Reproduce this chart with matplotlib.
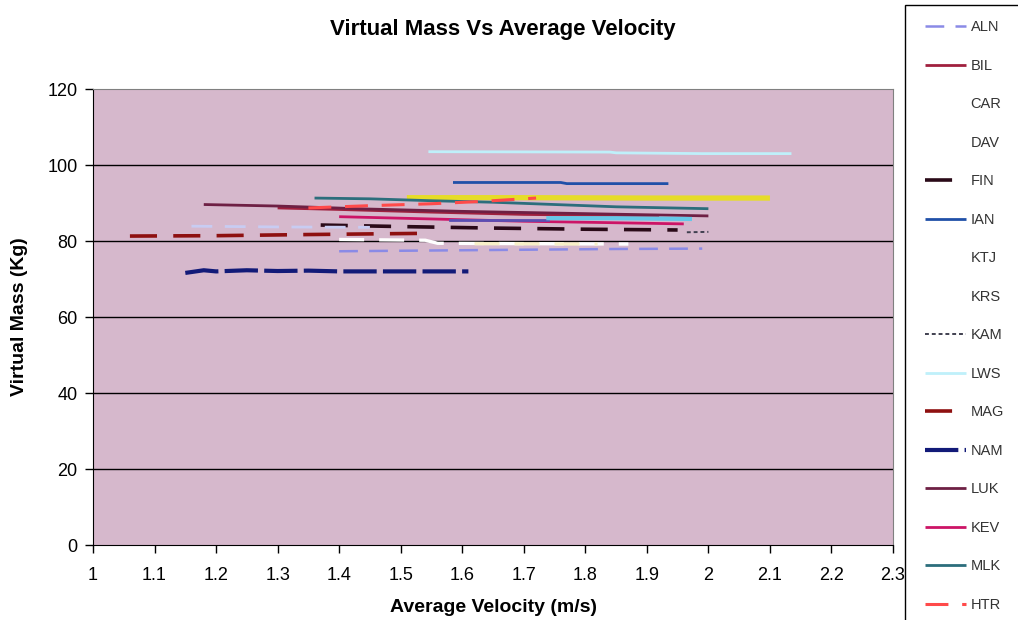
import matplotlib
matplotlib.use("Agg")
import matplotlib.pyplot as plt
from matplotlib import font_manager
from matplotlib.patches import Rectangle

# ---- data ----
names = ["ALN", "BIL", "CAR", "DAV", "FIN", "IAN", "KTJ", "KRS",
         "KAM", "LWS", "MAG", "NAM", "LUK", "KEV", "MLK", "HTR"]

aln_x = [1.40, 1.55, 1.70, 1.85, 1.99]
aln_y = [77.3, 77.5, 77.7, 77.9, 78.0]
bil_x = [1.30, 1.40, 1.55, 1.70, 1.85, 1.92]
bil_y = [88.7, 88.3, 87.6, 87.0, 86.7, 86.6]
car_x = [1.51, 1.70, 1.90, 2.10]
car_y = [91.4, 91.4, 91.3, 91.3]
dav_x = [1.40, 1.54, 1.56, 1.87]
dav_y = [80.4, 80.2, 79.4, 79.2]
fin_x = [1.37, 1.50, 1.65, 1.80, 1.95]
fin_y = [84.2, 83.8, 83.4, 83.1, 82.9]
ian_x = [1.585, 1.76, 1.77, 1.935]
ian_y = [95.4, 95.4, 95.1, 95.1]
ktj_x = [1.62, 1.82]
ktj_y = [79.3, 79.2]
krs_x = [1.16, 1.30, 1.45]
krs_y = [83.9, 83.7, 83.6]
kam_x = [1.965, 2.00]
kam_y = [82.3, 82.4]
lws_x = [1.545, 1.84, 1.85, 1.99, 2.135]
lws_y = [103.5, 103.4, 103.2, 103.0, 103.0]
mag_x = [1.06, 1.20, 1.35, 1.53]
mag_y = [81.3, 81.4, 81.7, 82.0]
nam_x = [1.15, 1.18, 1.20, 1.25, 1.30, 1.35, 1.40, 1.50, 1.61]
nam_y = [71.6, 72.3, 72.0, 72.3, 72.1, 72.2, 72.0, 72.0, 72.0]
luk_x = [1.18, 1.30, 1.45, 1.60, 1.80, 2.00]
luk_y = [89.6, 89.2, 88.4, 87.8, 87.2, 86.6]
kev_x = [1.40, 1.55, 1.70, 1.85, 1.96]
kev_y = [86.4, 85.8, 85.2, 84.8, 84.5]
mlk_x = [1.36, 1.45, 1.55, 1.65, 1.75, 1.85, 2.00]
mlk_y = [91.3, 91.1, 90.6, 90.2, 89.6, 89.0, 88.5]
htr_x = [1.35, 1.45, 1.55, 1.63, 1.72]
htr_y = [88.7, 89.3, 89.8, 90.4, 91.3]
# two series whose legend entries fall below the cropped picture
extra1_x = [1.58, 1.74]
extra1_y = [85.6, 85.6]
extra2_x = [1.74, 1.85, 1.97]
extra2_y = [86.0, 86.0, 85.8]

xticks = [1, 1.1, 1.2, 1.3, 1.4, 1.5, 1.6, 1.7, 1.8, 1.9, 2, 2.1, 2.2, 2.3]
yticks = [0, 20, 40, 60, 80, 100, 120]

installed = {f.name for f in font_manager.fontManager.ttflist}
narrow = "Liberation Sans Narrow" if "Liberation Sans Narrow" in installed else "Liberation Sans"
plt.rcParams["font.family"] = ["Liberation Sans", "DejaVu Sans"]

fig = plt.figure(figsize=(10.18, 6.2), dpi=100)
ax = fig.add_axes([93 / 1018, 1 - 545 / 620, 800 / 1018, 456 / 620])
ax.set_facecolor("#d6b8cc")

DASH = (7.5, 4.5)
series = [
    (aln_x, aln_y, "#8a8ae6", 1.8, DASH),
    (bil_x, bil_y, "#a0203e", 2.0, None),
    (car_x, car_y, "#e6dc28", 3.8, None),
    (dav_x, dav_y, "#ffffff", 2.4, DASH),
    (fin_x, fin_y, "#2a0a18", 2.6, DASH),
    (ian_x, ian_y, "#2050a8", 2.0, None),
    (ktj_x, ktj_y, "#f8f0c8", 2.4, DASH),
    (krs_x, krs_y, "#c8ccf2", 2.0, DASH),
    (kam_x, kam_y, "#404050", 1.4, (2, 1.5)),
    (lws_x, lws_y, "#bff0fa", 2.0, None),
    (mag_x, mag_y, "#8e1010", 2.6, DASH),
    (nam_x, nam_y, "#121a78", 3.0, (8, 1.5)),
    (luk_x, luk_y, "#6e2044", 2.0, None),
    (kev_x, kev_y, "#cc1466", 2.0, None),
    (mlk_x, mlk_y, "#2c6e7c", 2.0, None),
    (htr_x, htr_y, "#ff4a4a", 2.2, DASH),
]

handles = []
for (xs, ys, col, lw, dash), name in zip(series, names):
    ln, = ax.plot(xs, ys, color=col, lw=lw, label=name, solid_capstyle="butt", zorder=3)
    if dash:
        ln.set_dashes(dash)
    handles.append(ln)
ax.plot(extra1_x, extra1_y, color="#5a50b4", lw=2.0, zorder=3)
ax.plot(extra2_x, extra2_y, color="#66c8e8", lw=3.0, zorder=3)

ax.set_xlim(1, 2.3)
ax.set_ylim(0, 120)
ax.set_xticks(xticks)
ax.set_xticklabels([f"{t:g}" for t in xticks], fontfamily=narrow, fontsize=13)
ax.set_yticks(yticks)
ax.set_yticklabels([str(t) for t in yticks], fontfamily=narrow, fontsize=13)
ax.tick_params(axis="both", direction="out", length=6, width=1, color="black", pad=5)
ax.tick_params(axis="x", pad=10)
for y in yticks[1:-1]:
    ax.axhline(y, color="black", lw=1.0, zorder=1)
ax.spines["left"].set_color("black")
ax.spines["bottom"].set_color("black")
ax.spines["top"].set_color("#808080")
ax.spines["right"].set_color("#808080")

fig.text(503 / 1018, 1 - 30 / 620, "Virtual Mass Vs Average Velocity", ha="center", va="center",
         fontfamily=narrow, fontweight="bold", fontsize=16)
fig.text(493 / 1018, 1 - 607 / 620, "Average Velocity (m/s)", ha="center", va="center",
         fontfamily=narrow, fontweight="bold", fontsize=14)
fig.text(20 / 1018, 1 - 317 / 620, "Virtual Mass (Kg)", ha="center", va="center", rotation=90,
         fontfamily=narrow, fontweight="bold", fontsize=14)

# legend box (runs past the bottom edge, like the cropped original)
box = Rectangle((905 / 1018, 1 - 660 / 620), 140 / 1018, 655 / 620, transform=fig.transFigure,
                facecolor="white", edgecolor="black", lw=1.0, zorder=4)
fig.patches.append(box)
leg = fig.legend(handles=handles, labels=names, loc="upper left",
                 bbox_to_anchor=(918 / 1018, 1 - 13 / 620), frameon=False, borderpad=0,
                 fontsize=10.5, handlelength=2.8, handletextpad=0.3, labelspacing=1.68)
leg.set_zorder(5)
for h, name in zip(leg.get_lines(), names):
    if name in ("CAR", "DAV", "KTJ", "KRS"):
        h.set_alpha(0)
for t in leg.get_texts():
    t.set_color("#333333")

fig.savefig("out.png", dpi=100)
